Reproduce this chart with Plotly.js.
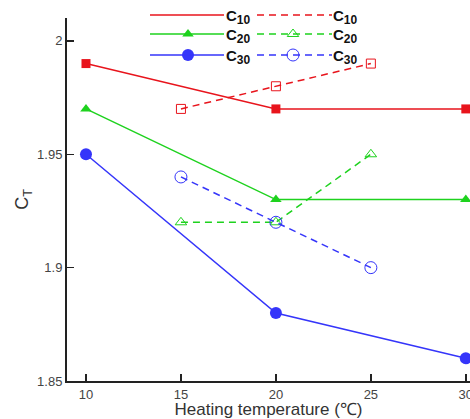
<!DOCTYPE html>
<html><head><meta charset="utf-8">
<script src="https://cdn.plot.ly/plotly-3.0.1.min.js"></script>
<style>html,body{margin:0;padding:0;background:#fff}#chart{width:470px;height:419px}</style>
</head><body><div id="chart"></div>
<script>
// Data
const xSolid = [10, 20, 30];
const c10Solid = [1.99, 1.97, 1.97];
const c20Solid = [1.97, 1.93, 1.93];
const c30Solid = [1.95, 1.88, 1.86];
const xDashed = [15, 20, 25];
const c10Dashed = [1.97, 1.98, 1.99];
const c20Dashed = [1.92, 1.92, 1.95];
const c30Dashed = [1.94, 1.92, 1.90];
const seriesNames = ['10', '20', '30'];
const xTicks = [10, 15, 20, 25, 30];
const yTicks = [1.85, 1.9, 1.95, 2];

const RED = '#e8141c', GREEN = '#1ed21e', BLUE = '#3535fa';
const colors = [RED, GREEN, BLUE];
const symbols = ['square', 'triangle-up', 'circle'];
const sizes = [9, 10, 12];
const solidY = [c10Solid, c20Solid, c30Solid];
const dashedY = [c10Dashed, c20Dashed, c30Dashed];

const L = 67, T = 18, R = 470, B = 381;
const traces = [];
for (let i = 0; i < 3; i++) {
  traces.push({x: xSolid, y: solidY[i], mode: 'lines+markers', cliponaxis: false,
    line: {color: colors[i], width: 1.5},
    marker: {symbol: symbols[i], size: sizes[i], color: colors[i]}, showlegend: false});
}
for (let i = 0; i < 3; i++) {
  traces.push({x: xDashed, y: dashedY[i], mode: 'lines+markers', cliponaxis: false,
    line: {color: colors[i], width: 1.5, dash: '7px,5px'},
    marker: {symbol: symbols[i] + '-open', size: sizes[i], color: colors[i], line: {width: 1}}, showlegend: false});
}
// legend samples (pixel coords on overlay axes)
const rowY = [15, 34, 55];
const shapes = [];
const annotations = [];
const px = v => (v - L) / (R - L);
const py = v => (B - v) / (B - T);
const lab = n => '<b>C<sub><span style="font-size:12px">' + n + '</span></sub></b>';
for (let i = 0; i < 3; i++) {
  shapes.push({type: 'line', xref: 'paper', yref: 'paper', x0: px(150), x1: px(224), y0: py(rowY[i]), y1: py(rowY[i]),
    line: {color: colors[i], width: 1.5}});
  shapes.push({type: 'line', xref: 'paper', yref: 'paper', x0: px(257), x1: px(332), y0: py(rowY[i]), y1: py(rowY[i]),
    line: {color: colors[i], width: 1.5, dash: '7px,5px'}});
  traces.push({x: [188], y: [rowY[i]], xaxis: 'x2', yaxis: 'y2', mode: 'markers', cliponaxis: false,
    marker: {symbol: symbols[i], size: sizes[i], color: colors[i]}, showlegend: false, hoverinfo: 'skip'});
  traces.push({x: [293], y: [rowY[i]], xaxis: 'x2', yaxis: 'y2', mode: 'markers', cliponaxis: false,
    marker: {symbol: symbols[i] + '-open', size: sizes[i], color: colors[i], line: {width: 1}}, showlegend: false, hoverinfo: 'skip'});
  annotations.push({xref: 'paper', yref: 'paper', x: px(224), y: py(rowY[i] + 2), xanchor: 'left', yanchor: 'middle',
    text: lab(seriesNames[i]), showarrow: false, font: {family: 'Liberation Sans, Arial', size: 15, color: '#111'}});
  annotations.push({xref: 'paper', yref: 'paper', x: px(331), y: py(rowY[i] + 2), xanchor: 'left', yanchor: 'middle',
    text: lab(seriesNames[i]), showarrow: false, font: {family: 'Liberation Sans, Arial', size: 15, color: '#111'}});
}

const layout = {
  width: 470, height: 419,
  margin: {l: L, r: 470 - R, t: T, b: 419 - B},
  paper_bgcolor: '#fff', plot_bgcolor: '#fff',
  font: {family: 'Liberation Sans, Arial', color: '#444'},
  xaxis: {range: [9, 30.22], tickvals: xTicks, ticktext: xTicks.map(String), ticks: 'inside', ticklen: 7, tickwidth: 1.5,
    tickcolor: '#222', showline: true, linecolor: '#222', linewidth: 2, showgrid: false, zeroline: false,
    ticklabeloverflow: 'allow',
    tickfont: {size: 13, color: '#444'},
    title: {text: 'Heating temperature (℃)', font: {size: 17, color: '#333'}, standoff: 3}},
  yaxis: {range: [1.85, 2.0101], tickvals: yTicks, ticktext: ['1.85', '1.9', '1.95', '2'], ticks: 'inside', ticklen: 7, tickwidth: 1.5,
    tickcolor: '#222', showline: true, linecolor: '#222', linewidth: 2, showgrid: false, zeroline: false,
    tickfont: {size: 13, color: '#444'},
    title: {text: 'C<sub>T</sub>', font: {size: 18, color: '#333'}, standoff: 4}},
  xaxis2: {overlaying: 'x', range: [L, R], visible: false, fixedrange: true},
  yaxis2: {overlaying: 'y', range: [B, T], visible: false, fixedrange: true},
  shapes: shapes, annotations: annotations, showlegend: false
};
Plotly.newPlot('chart', traces, layout, {displayModeBar: false, staticPlot: true});
</script></body></html>
